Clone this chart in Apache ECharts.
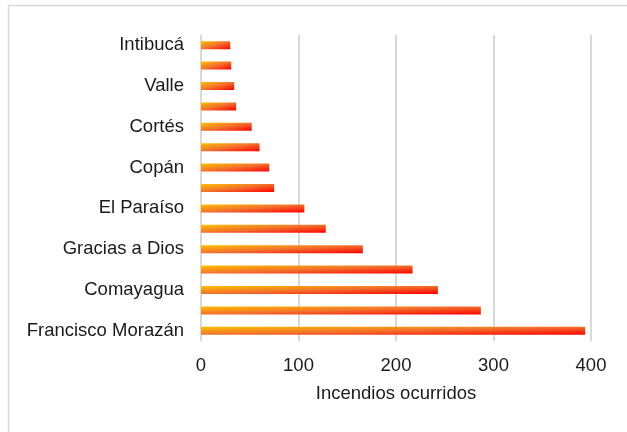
<!DOCTYPE html>
<html>
<head>
<meta charset="utf-8">
<script src="https://cdn.jsdelivr.net/npm/echarts@6/dist/echarts.min.js"></script>
<style>
  html, body { margin: 0; padding: 0; background: #fff; }
  #chart { width: 627px; height: 432px; }
</style>
</head>
<body>
<div id="chart"></div>
<script>
// bottom to top, as the category axis draws them
var departamentos = ['Francisco Morazán', '', 'Comayagua', '', 'Gracias a Dios', '', 'El Paraíso', '',
  'Copán', '', 'Cortés', '', 'Valle', '', 'Intibucá']
var incendios = [394, 287, 243, 217, 166, 128, 106, 75, 70, 60, 52, 36, 34, 31, 30]
var ticks = [0, 100, 200, 300, 400]

var barH = 8

// diagonal gradient in the bar's own box (like the office chart fill):
// t = x/(2w) + y/(2h), turned into a pixel-space linear gradient
function barFill(w) {
  var h = barH
  var d = w * w + h * h
  return new echarts.graphic.LinearGradient(0, 0, 2 * h * h / d, 2 * w * w / d, [
    { offset: 0, color: '#ffc000' },
    { offset: 0.5, color: '#f2702c' },
    { offset: 1, color: '#ff0000' }
  ])
}

var chart = echarts.init(document.getElementById('chart'))
var option = {
  animation: false,
  textStyle: { fontFamily: 'Liberation Sans, Arial, sans-serif' },
  graphic: [{
    type: 'rect',
    shape: { x: 8.5, y: 5.5, width: 640, height: 440 },
    style: { fill: 'none', stroke: '#d9d9d9', lineWidth: 1.5 },
    silent: true
  }],
  grid: {
    left: 201,
    right: 36,
    top: 35,
    bottom: 91
  },
  xAxis: {
    type: 'value',
    min: ticks[0],
    max: ticks[ticks.length - 1],
    interval: 100,
    name: 'Incendios ocurridos',
    nameLocation: 'middle',
    nameGap: 43,
    nameTextStyle: { color: '#1a1a1a', fontSize: 18.5 },
    axisLine: { show: false },
    axisTick: { show: false },
    axisLabel: { color: '#1a1a1a', fontSize: 18.5, margin: 15 },
    splitLine: { lineStyle: { color: '#d9d9d9', width: 2 } }
  },
  yAxis: {
    type: 'category',
    data: departamentos,
    axisLine: { show: false },
    axisTick: { show: false },
    axisLabel: { color: '#1a1a1a', fontSize: 18.5, margin: 17, interval: 0 }
  },
  series: [
    {
      name: 'Incendios',
      type: 'bar',
      barWidth: barH,
      data: incendios,
      itemStyle: { color: '#f2702c' }
    }
  ]
}
chart.setOption(option)

var x0 = chart.convertToPixel({ xAxisIndex: 0 }, 0)
chart.setOption({
  series: [{
    data: incendios.map(function (v) {
      var w = chart.convertToPixel({ xAxisIndex: 0 }, v) - x0
      return { value: v, itemStyle: { color: barFill(w) } }
    })
  }]
})
</script>
</body>
</html>
